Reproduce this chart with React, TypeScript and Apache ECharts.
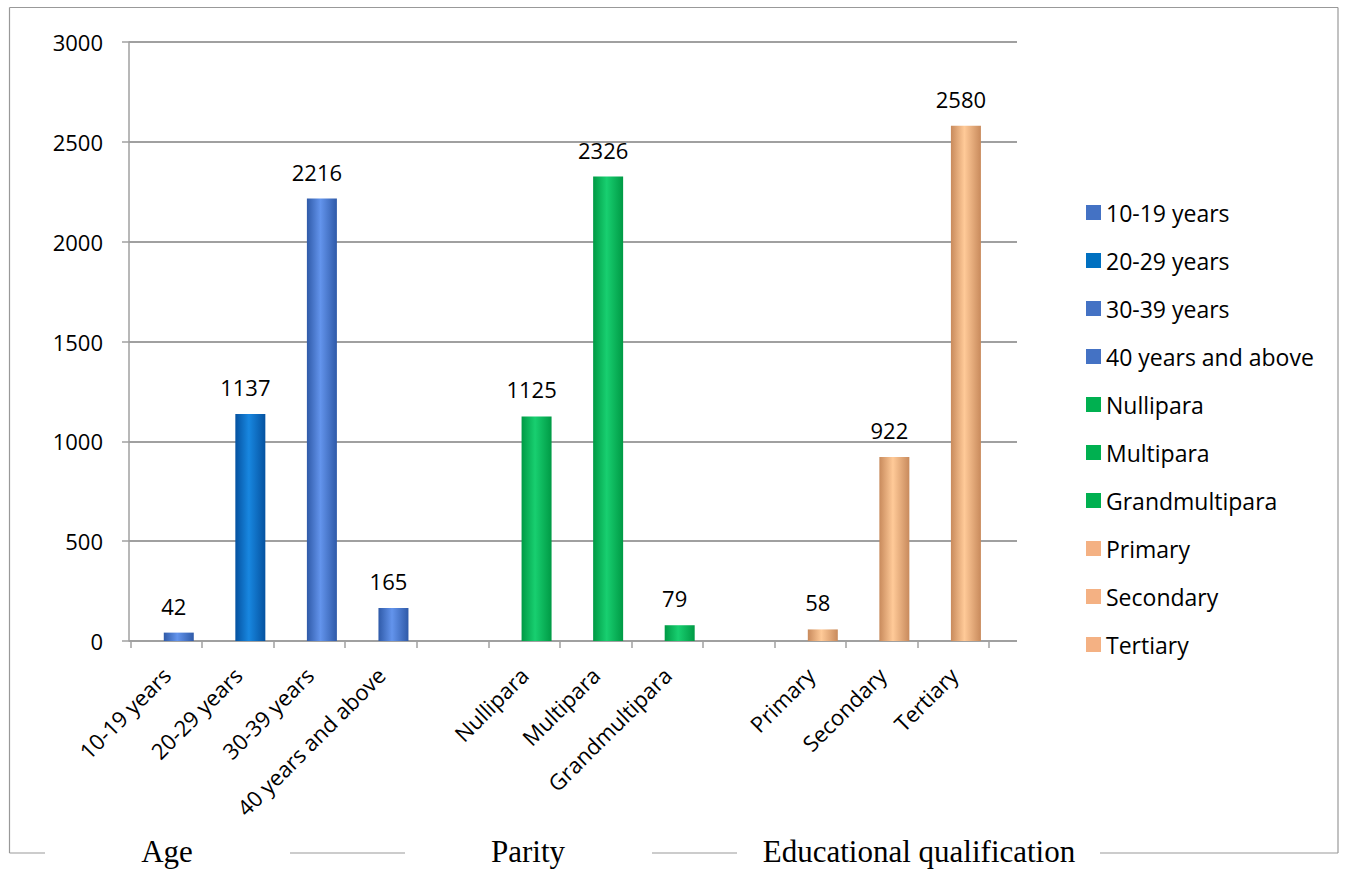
import React, { useEffect, useRef } from "react";
import * as echarts from "echarts";

const categories = [
  "10-19 years",
  "20-29 years",
  "30-39 years",
  "40 years and above",
  " ",
  "Nullipara",
  "Multipara",
  "Grandmultipara",
  "  ",
  "Primary",
  "Secondary",
  "Tertiary",
];
const values: (number | null)[] = [42, 1137, 2216, 165, null, 1125, 2326, 79, null, 58, 922, 2580];
const groupOf = ["a", "b", "a", "a", "", "p", "p", "p", "", "e", "e", "e"];
const groupTitles = ["Age", "Parity", "Educational qualification"];
const yTicks = { min: 0, max: 3000, interval: 500 };

const FONT = "Open Sans";

const palette: Record<string, { flat: string; dark: string; light: string }> = {
  a: { flat: "#4472C4", dark: "#2f5aa8", light: "#6394ec" },
  b: { flat: "#0070C0", dark: "#0552a0", light: "#1887e0" },
  p: { flat: "#00B050", dark: "#009a45", light: "#18cf70" },
  e: { flat: "#F4B183", dark: "#c88a5c", light: "#ffca98" },
};

function grad(g: string) {
  const p = palette[g];
  return new echarts.graphic.LinearGradient(0, 0, 1, 0, [
    { offset: 0, color: p.dark },
    { offset: 0.45, color: p.light },
    { offset: 1, color: p.dark },
  ]);
}

export default function App() {
  const ref = useRef<HTMLDivElement>(null);
  useEffect(() => {
    if (!ref.current) return;
    const chart = echarts.init(ref.current, undefined, { renderer: "svg" });

    const seriesIdx = categories.map((c, i) => i).filter((i) => values[i] !== null);
    const series = seriesIdx.map((i) => ({
      type: "bar",
      name: categories[i],
      xAxisIndex: 2,
      yAxisIndex: 2,
      barWidth: 30,
      barGap: "-100%",
      data: categories.map((_, j) => (j === i ? values[i] : "-")),
      itemStyle: { color: grad(groupOf[i]) },
      label: {
        show: true,
        position: "top",
        distance: 16,
        offset: [-5, 0],
        fontSize: 22,
        color: "#000",
        fontFamily: FONT,
      },
    }));

    const gray = "#a0a0a0";
    const bx = 1338, by = 853, tx = 9.5, ty = 7.5;
    const border = { stroke: "#999", lineWidth: 1.2 };
    const graphics: any[] = [
      { type: "line", shape: { x1: tx, y1: ty, x2: bx, y2: ty }, style: border },
      { type: "line", shape: { x1: tx, y1: ty, x2: tx, y2: by }, style: border },
      { type: "line", shape: { x1: bx, y1: ty, x2: bx, y2: by }, style: border },
      { type: "line", shape: { x1: tx, y1: by, x2: 45, y2: by }, style: border },
      { type: "line", shape: { x1: 290, y1: by, x2: 405, y2: by }, style: border },
      { type: "line", shape: { x1: 652, y1: by, x2: 737, y2: by }, style: border },
      { type: "line", shape: { x1: 1100, y1: by, x2: bx, y2: by }, style: border },
    ];
    const titleX = [167, 528, 919];
    groupTitles.forEach((t, k) => {
      graphics.push({
        type: "text",
        x: titleX[k],
        y: 851,
        style: {
          text: t,
          fontFamily: "Liberation Serif",
          fontSize: 31,
          fill: "#000",
          align: "center",
          verticalAlign: "middle",
        },
      });
    });

    chart.setOption({
      animation: false,
      backgroundColor: "#fff",
      grid: [
        { left: 129, top: 42, width: 888, height: 599 },
        { left: 130.5, top: 42, width: 858.7, height: 599 },
        { left: 143, top: 42, width: 858.7, height: 599 },
      ],
      xAxis: [
        { type: "category", gridIndex: 0, data: categories, show: false },
        {
          type: "category",
          gridIndex: 1,
          data: categories,
          axisLine: { show: false },
          axisTick: { show: true, length: 7, lineStyle: { color: gray, width: 1.5 } },
          axisLabel: {
            show: true,
            rotate: 45,
            interval: 0,
            margin: 30,
            fontSize: 22,
            color: "#000",
            fontFamily: FONT,
          },
        },
        {
          type: "category",
          gridIndex: 2,
          data: categories,
          show: false,
        },
      ],
      yAxis: [
        {
          type: "value",
          gridIndex: 0,
          min: yTicks.min,
          max: yTicks.max,
          interval: yTicks.interval,
          axisLine: { show: true, lineStyle: { color: gray, width: 1.5 } },
          axisTick: { show: true, length: 7, lineStyle: { color: gray, width: 1.5 } },
          axisLabel: {
            margin: 26,
            fontSize: 22,
            color: "#000",
            fontFamily: FONT,
            formatter: (v: number) => String(v),
          },
          splitLine: { show: true, lineStyle: { color: gray, width: 2 } },
        },
        { type: "value", gridIndex: 1, min: yTicks.min, max: yTicks.max, interval: yTicks.interval, show: false, splitLine: { show: false } },
        { type: "value", gridIndex: 2, min: yTicks.min, max: yTicks.max, interval: yTicks.interval, show: false, splitLine: { show: false } },
      ],
      legend: {
        orient: "vertical",
        left: 1081,
        top: 196,
        itemWidth: 15,
        itemHeight: 15,
        itemGap: 25,
        icon: "rect",
        textStyle: { fontSize: 23, color: "#000", fontFamily: FONT, padding: [0, 0, 0, 0] },
        data: seriesIdx.map((i) => ({
          name: categories[i],
          itemStyle: { color: palette[groupOf[i]].flat },
        })),
      },
      series,
      graphic: graphics,
    });
    return () => chart.dispose();
  }, []);
  return (
    <div
      ref={ref}
      style={{ position: "fixed", left: 0, top: 0, width: 1346, height: 871, background: "#fff" }}
    />
  );
}
